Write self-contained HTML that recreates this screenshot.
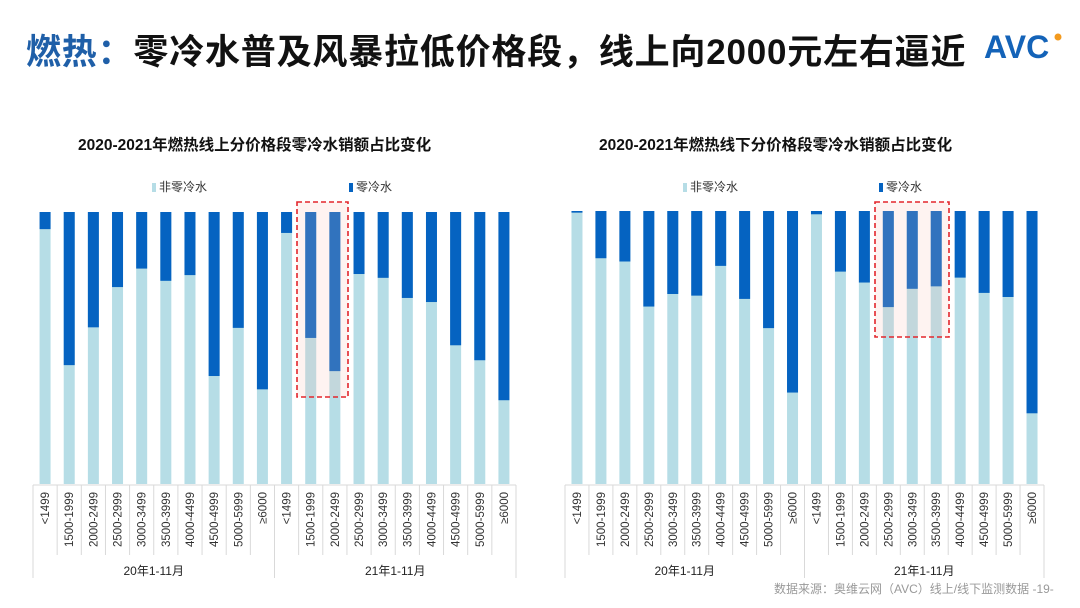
<!DOCTYPE html>
<html><head><meta charset="utf-8">
<style>
body{margin:0;width:1080px;height:608px;background:#fff;overflow:hidden;position:relative;font-family:"Liberation Sans","Noto Sans CJK SC",sans-serif}
#title{position:absolute;left:26px;top:24px;font-size:35px;font-weight:bold;color:#111;white-space:nowrap;letter-spacing:0.8px}
#title span{color:#1f5fa8}
.ct{position:absolute;top:133px;font-size:15.5px;font-weight:bold;color:#111;white-space:nowrap}
.leg{position:absolute;top:178px;font-size:12px;color:#333;white-space:nowrap}
.leg i{display:inline-block;width:4px;height:9px;margin-right:3px;vertical-align:-1px}
#src{position:absolute;left:774px;top:580px;font-size:12px;color:#999;white-space:nowrap}
svg{position:absolute;left:0;top:0}
</style></head><body>
<div id="title"><span>燃热：</span>零冷水普及风暴拉低价格段，线上向2000元左右逼近</div>
<svg width="1080" height="608" id="logo">
<text x="984" y="58" font-family="Liberation Sans" font-weight="bold" font-size="32" fill="#1463b8">AVC</text>
<circle cx="1058" cy="37" r="3.5" fill="#f39a1e"/>
</svg>
<div class="ct" style="left:78px">2020-2021年燃热线上分价格段零冷水销额占比变化</div>
<div class="ct" style="left:599px">2020-2021年燃热线下分价格段零冷水销额占比变化</div>
<div class="leg" style="left:152px"><i style="background:#b6dde6"></i>非零冷水</div>
<div class="leg" style="left:349px"><i style="background:#0563c1"></i>零冷水</div>
<div class="leg" style="left:683px"><i style="background:#b6dde6"></i>非零冷水</div>
<div class="leg" style="left:879px"><i style="background:#0563c1"></i>零冷水</div>
<svg width="1080" height="608" id="charts"></svg>
<div id="src">数据来源：奥维云网（AVC）线上/线下监测数据 -19-</div>
<script>
const categories=["<1499","1500-1999","2000-2499","2500-2999","3000-3499","3500-3999","4000-4499","4500-4999","5000-5999","≥6000"];
const groups=["20年1-11月","21年1-11月"];
const onlineZero=[0.063,0.563,0.424,0.276,0.208,0.253,0.232,0.603,0.426,0.652,0.077,0.463,0.585,0.228,0.242,0.316,0.331,0.49,0.545,0.692];
const offlineZero=[0.006,0.173,0.185,0.35,0.304,0.31,0.201,0.322,0.429,0.665,0.012,0.222,0.262,0.352,0.285,0.276,0.244,0.3,0.315,0.741];
const NS="http://www.w3.org/2000/svg";
const svg=document.getElementById('charts');
function mk(t,a){const e=document.createElementNS(NS,t);for(const k in a)e.setAttribute(k,a[k]);svg.appendChild(e);return e;}
function draw(vals,x0,x1,top,bot,hl,prefix){
  const n=vals.length,step=(x1-x0)/n;
  const xc=i=>x0+step*(i+0.5);
  const y=v=>top+(bot-top)*v;
  vals.forEach((v,i)=>{
    const r1=mk('rect',{x:xc(i)-5.5,y:top,width:11,height:bot-top,fill:'#b6dde6'});
    
    
    const r2=mk('rect',{x:xc(i)-5.5,y:top,width:11,height:y(v)-top,fill:'#0563c1'});
    
    
  });
  const hb=mk('rect',{x:hl[0],y:hl[1],width:hl[2],height:hl[3],fill:'rgba(250,190,180,0.18)',stroke:'#e3262c','stroke-width':1.6,'stroke-dasharray':'5,3'});
  
  
  mk('line',{x1:x0,y1:bot+1,x2:x1,y2:bot+1,stroke:'#d9d9d9'});
  for(let i=0;i<=n;i++){
    const x=x0+step*i;const g=(i%10===0);
    mk('line',{x1:x,y1:bot+1,x2:x,y2:g?578:555,stroke:'#d9d9d9'});
  }
  vals.forEach((v,i)=>{
    const t=mk('text',{x:0,y:0,'font-size':11.5,fill:'#333','text-anchor':'end',transform:`translate(${xc(i)+4},492) rotate(-90)`});
    t.textContent=categories[i%10];
    
    
  });
  groups.forEach((g,k)=>{
    const t=mk('text',{x:x0+step*(k*10+5),y:575,'font-size':12,fill:'#222','text-anchor':'middle'});
    t.textContent=g;
    
    
  });
}
draw(onlineZero,33,516,212,484,[297,202,51,195],'online');
draw(offlineZero,565,1044,211,484,[875,202,74,135],'offline');
</script>
</body></html>
